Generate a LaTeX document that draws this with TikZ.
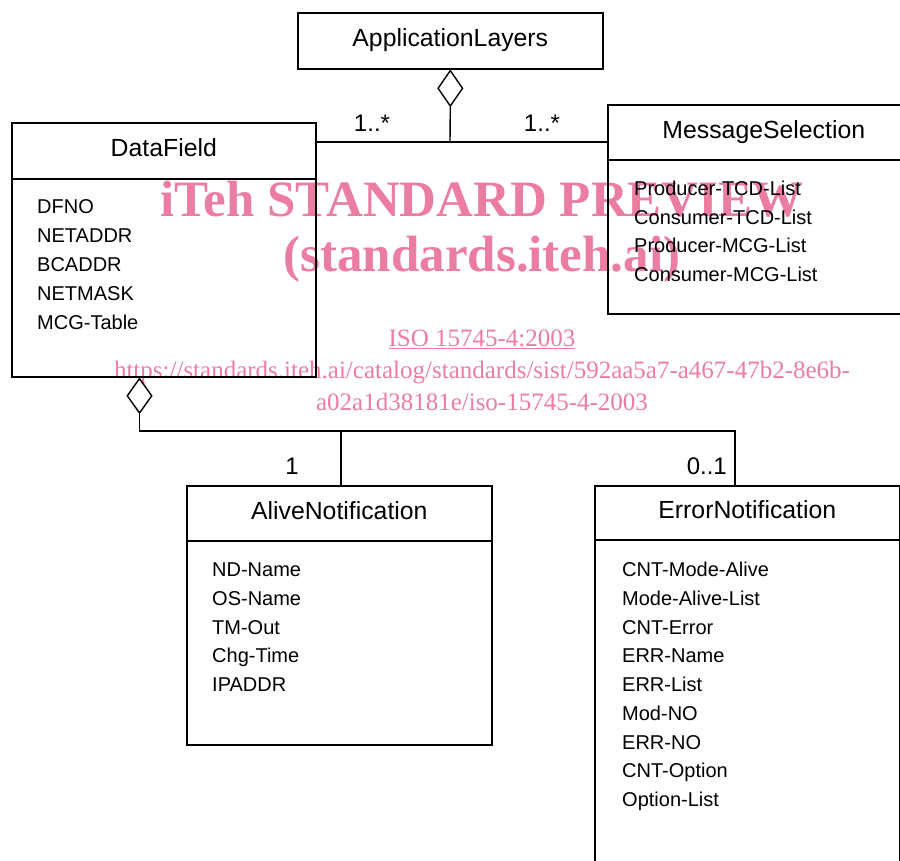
\documentclass[tikz,border=0pt]{standalone}
\usepackage{fontspec}
\setmainfont{Liberation Sans}
\newfontfamily\wmfont{Liberation Serif}
\usetikzlibrary{shapes.geometric}
\definecolor{wm}{RGB}{235,125,160}
\begin{document}
\begin{tikzpicture}[x=1pt,y=-1pt,
 box/.style={draw, line width=1.6pt, rectangle, inner sep=0pt, anchor=north west},
 ttl/.style={font=\fontsize{24.8}{30}\selectfont, text height=12pt, text depth=0pt},
 attr/.style={anchor=base west, inner sep=0pt, font=\fontsize{20}{24}\selectfont},
 mult/.style={anchor=base, inner sep=0pt, font=\fontsize{24}{28}\selectfont},
 conn/.style={line width=1.4pt},
 agg/.style={diamond, draw, line width=1.4pt, inner sep=0pt, minimum width=25pt, minimum height=35pt, anchor=north},
 wmbig/.style={text=wm, font=\wmfont\bfseries\fontsize{51}{60}\selectfont, anchor=base, inner sep=0pt},
 wmsmall/.style={text=wm, font=\wmfont\fontsize{25}{30}\selectfont, anchor=base, inner sep=0pt}]
\useasboundingbox (0,0) rectangle (900,861);
\clip (0,0) rectangle (900,861);

% watermark
\node[wmbig] (wm1) at (482,217) {iTeh STANDARD PREVIEW};
\node[wmbig] (wm2) at (482,272) {(standards.iteh.ai)};
\node[wmsmall] (wm3) at (482,346) {\underline{ISO 15745-4:2003}};
\node[wmsmall] (wm4) at (482,378) {https://standards.iteh.ai/catalog/standards/sist/592aa5a7-a467-47b2-8e6b-};
\node[wmsmall] (wm5) at (482,410) {a02a1d38181e/iso-15745-4-2003};

% classes
\node[box, ttl, minimum width=305pt, minimum height=56pt] (app) at (297,12) {ApplicationLayers};
\node[box, ttl, minimum width=304pt, minimum height=56pt] (dfh) at (11,122) {DataField};
\node[box, minimum width=304pt, minimum height=198pt] (dfb) at (11,178) {};
\node[box, ttl, minimum width=312pt, minimum height=55pt] (msh) at (607,104) {MessageSelection};
\node[box, minimum width=312pt, minimum height=154pt] (msb) at (607,159) {};
\node[box, ttl, minimum width=305pt, minimum height=55pt] (alh) at (186,485) {AliveNotification};
\node[box, minimum width=305pt, minimum height=204pt] (alb) at (186,540) {};
\node[box, ttl, minimum width=305pt, minimum height=54pt] (erh) at (594,485) {ErrorNotification};
\node[box, minimum width=305pt, minimum height=400pt] (erb) at (594,539) {};

% attributes
\foreach \t [count=\i] in {DFNO,NETADDR,BCADDR,NETMASK,MCG-Table}
  \node[attr] (dfa\i) at (37,{214+28.75*(\i-1)}) {\t};
\foreach \t [count=\i] in {Producer-TCD-List,Consumer-TCD-List,Producer-MCG-List,Consumer-MCG-List}
  \node[attr] (msa\i) at (634,{196+28.4*(\i-1)}) {\t};
\foreach \t [count=\i] in {ND-Name,OS-Name,TM-Out,Chg-Time,IPADDR}
  \node[attr] (ala\i) at (212,{576.7+28.75*(\i-1)}) {\t};
\foreach \t [count=\i] in {CNT-Mode-Alive,Mode-Alive-List,CNT-Error,ERR-Name,ERR-List,Mod-NO,ERR-NO,CNT-Option,Option-List}
  \node[attr] (era\i) at (622,{576.7+28.75*(\i-1)}) {\t};

% aggregation diamonds
\node[agg, minimum height=36pt] (d1) at (app.south) {};
\coordinate (x2) at (139.5,0);
\node[agg] (d2) at (dfb.south -| x2) {};

% connectors
\coordinate (j1) at (450,142);
\draw[conn] (d1.south) -- (j1);
\draw[conn] (dfh.east |- j1) -- (msh.west |- j1);
\coordinate (b1) at (341,431);
\coordinate (b2) at (735,431);
\draw[conn] (d2.south) |- (b2) -- (b2 |- erh.north);
\draw[conn] (b1) -- (b1 |- alh.north);

% multiplicities
\node[mult] (m1) at (372,132) {1..*};
\node[mult] (m2) at (542,132) {1..*};
\node[mult] (m3) at (292,474) {1};
\node[mult, anchor=base east] (m4) at (727,474) {0..1};
\end{tikzpicture}
\end{document}
